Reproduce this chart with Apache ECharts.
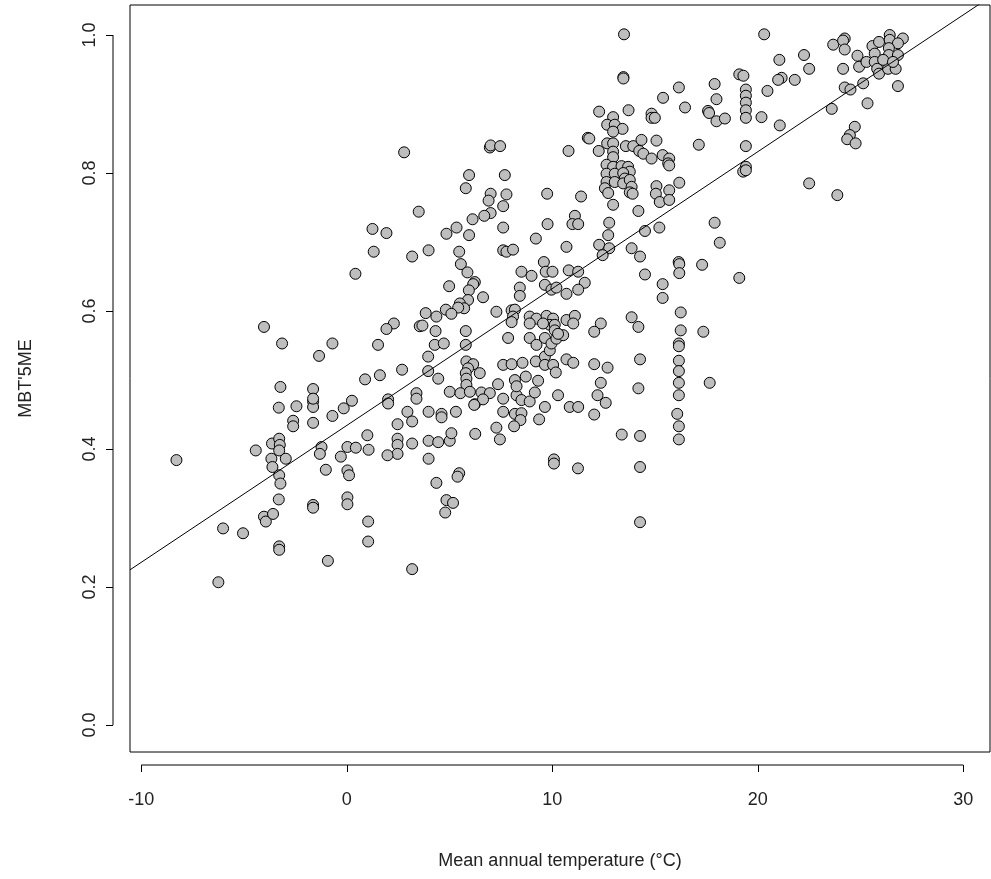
<!DOCTYPE html>
<html>
<head>
<meta charset="utf-8">
<script src="https://cdn.jsdelivr.net/npm/echarts@6/dist/echarts.min.js"></script>
<style>
html,body{margin:0;padding:0;background:#fff;}
#chart{width:991px;height:879px;}
</style>
</head>
<body>
<div id="chart"></div>
<script>
// Mean annual temperature (°C)
const temperature = [
2.79,6.96,7.00,7.46,10.79,11.73,5.95,7.69,5.79,7.00,7.77,9.75,11.40,6.90,7.61,3.50,7.00,6.69,6.12,11.10,10.98,11.26,
1.25,1.93,1.31,3.18,3.98,4.85,5.34,5.95,7.61,9.77,9.20,10.69,5.47,7.61,7.77,8.09,5.55,5.87,6.23,6.15,4.98,5.94,6.63,5.90,5.50,5.71,5.42,4.82,5.09,3.84,4.36,3.55,3.68,2.29,1.93,4.32,5.79,1.52,4.28,4.72,5.79,3.96,2.69,1.61,3.96,4.45,
5.82,6.15,5.90,5.79,5.82,5.82,6.47,5.01,5.53,5.99,6.55,6.96,7.36,6.23,6.63,2.01,2.01,3.39,3.39,7.61,8.26,8.50,8.90,9.15,9.64,10.28,10.85,11.26,
7.61,8.02,8.55,8.18,8.26,8.71,9.31,9.20,9.64,9.64,10.04,9.88,10.17,10.69,11.02,8.90,9.23,9.64,9.96,10.20,10.53,7.85,8.90,9.23,9.72,10.04,9.88,10.12,8.90,9.55,10.69,11.10,11.02,10.12,10.28,
8.02,8.18,8.09,8.02,7.28,8.42,8.42,8.50,8.99,9.59,9.68,10.01,9.64,9.96,10.20,10.69,10.80,11.26,11.58,11.26,
12.77,12.72,12.28,12.77,12.45,14.19,14.51,15.21,13.86,14.27,17.90,18.15,16.15,16.18,16.18,17.29,14.51,15.37,15.37,19.10,16.25,13.86,14.19,12.36,12.04,16.25,17.35,16.16,16.16,16.16,16.16,16.16,16.16,14.27,12.04,12.69,17.66,12.36,14.19,12.20,12.60,16.08,
12.04,16.16,16.16,13.38,14.27,11.25,14.27,14.27,
2.95,3.98,4.61,4.61,5.31,6.20,3.18,2.47,1.00,2.47,2.47,2.47,1.98,1.06,3.18,3.98,4.45,5.01,5.09,3.98,6.25,7.61,8.18,8.50,8.45,8.14,7.28,7.45,9.36,10.08,10.08,4.36,5.47,5.39,4.85,5.17,4.79,3.18,
-3.31,-2.45,-1.64,-1.64,-2.61,-2.61,-1.64,-0.70,-0.15,0.25,0.03,0.44,-1.23,-1.31,-0.29,-1.02,0.03,0.11,-4.43,-3.64,-3.29,-3.26,-3.29,-3.67,-2.97,-3.62,-3.29,-3.23,-3.31,-4.03,-3.94,-3.59,-6.02,-5.05,-3.29,-3.29,-6.25,-8.29,-1.64,-1.64,0.03,0.03,1.04,1.04,-0.92,
0.42,-4.03,-3.15,-0.70,-1.35,-3.23,-1.64,-1.64,0.89,
13.49,20.31,13.46,13.46,21.05,19.10,19.30,21.16,20.99,21.80,20.47,19.42,19.42,19.42,19.42,19.42,20.18,21.07,17.90,17.99,17.58,17.63,17.99,18.40,16.16,15.39,16.46,13.71,12.28,14.83,14.83,14.99,12.96,12.67,13.04,13.42,12.96,11.80,12.67,12.96,13.58,13.94,14.34,15.07,12.26,12.96,14.23,14.43,17.13,14.83,15.37,15.69,15.64,15.69,12.96,12.64,12.96,13.37,13.69,13.77,12.64,13.04,13.45,13.53,19.42,19.42,19.29,19.42,12.64,13.04,13.45,13.77,13.86,12.56,12.72,13.77,13.91,15.07,15.04,15.69,16.18,15.23,15.69,12.96,
22.25,22.50,23.67,24.23,24.15,24.23,24.15,24.85,24.93,25.29,25.58,25.69,25.90,26.42,26.42,27.06,26.82,26.38,26.38,26.82,25.69,25.81,25.90,26.34,26.71,26.10,26.58,26.82,24.23,24.51,25.13,23.60,25.34,24.72,24.48,24.35,24.76,22.50,23.87
];
// MBT'5ME
const mbt = [
0.830,0.837,0.840,0.839,0.832,0.851,0.797,0.797,0.778,0.770,0.769,0.770,0.766,0.760,0.752,0.744,0.742,0.738,0.733,0.738,0.726,0.726,
0.719,0.713,0.686,0.679,0.688,0.712,0.721,0.710,0.721,0.726,0.705,0.693,0.686,0.688,0.686,0.689,0.668,0.656,0.642,0.639,0.636,0.630,0.620,0.616,0.611,0.604,0.605,0.602,0.596,0.597,0.592,0.578,0.579,0.582,0.574,0.571,0.571,0.551,0.551,0.553,0.551,0.534,0.515,0.507,0.513,0.502,
0.527,0.523,0.517,0.510,0.502,0.493,0.510,0.483,0.481,0.483,0.482,0.481,0.494,0.465,0.472,0.472,0.466,0.481,0.473,0.473,0.478,0.471,0.469,0.482,0.461,0.478,0.461,0.461,
0.522,0.523,0.525,0.500,0.491,0.505,0.499,0.527,0.534,0.522,0.522,0.543,0.511,0.530,0.525,0.561,0.551,0.561,0.553,0.560,0.565,0.561,0.592,0.589,0.593,0.589,0.580,0.580,0.582,0.582,0.587,0.593,0.582,0.572,0.567,
0.601,0.602,0.592,0.584,0.599,0.634,0.622,0.657,0.651,0.671,0.657,0.657,0.638,0.631,0.634,0.625,0.659,0.657,0.641,0.631,
0.728,0.710,0.696,0.691,0.681,0.745,0.716,0.721,0.691,0.679,0.728,0.699,0.671,0.668,0.655,0.667,0.653,0.639,0.619,0.648,0.598,0.591,0.577,0.582,0.570,0.572,0.570,0.553,0.549,0.528,0.513,0.496,0.478,0.530,0.523,0.518,0.496,0.496,0.488,0.478,0.467,0.451,
0.450,0.433,0.414,0.421,0.419,0.372,0.374,0.294,
0.454,0.454,0.451,0.446,0.454,0.464,0.440,0.436,0.420,0.415,0.406,0.393,0.391,0.399,0.408,0.412,0.410,0.412,0.423,0.386,0.422,0.454,0.451,0.452,0.442,0.433,0.431,0.414,0.443,0.385,0.379,0.351,0.365,0.360,0.326,0.322,0.308,0.226,
0.460,0.462,0.469,0.461,0.441,0.433,0.438,0.448,0.459,0.470,0.403,0.402,0.403,0.393,0.389,0.370,0.369,0.362,0.398,0.408,0.415,0.406,0.398,0.386,0.386,0.374,0.362,0.350,0.327,0.302,0.295,0.306,0.285,0.278,0.259,0.254,0.207,0.384,0.319,0.315,0.330,0.320,0.295,0.266,0.238,
0.654,0.577,0.553,0.553,0.535,0.490,0.487,0.473,0.501,
1.001,1.001,0.939,0.937,0.964,0.943,0.941,0.938,0.935,0.935,0.919,0.921,0.912,0.902,0.891,0.880,0.881,0.869,0.929,0.907,0.890,0.887,0.875,0.879,0.924,0.909,0.895,0.891,0.889,0.886,0.880,0.880,0.881,0.870,0.870,0.864,0.860,0.850,0.843,0.843,0.839,0.839,0.848,0.847,0.832,0.831,0.832,0.828,0.841,0.821,0.826,0.821,0.814,0.811,0.823,0.812,0.809,0.810,0.809,0.802,0.799,0.799,0.800,0.792,0.839,0.809,0.802,0.804,0.787,0.787,0.785,0.790,0.780,0.778,0.771,0.772,0.770,0.781,0.770,0.775,0.786,0.758,0.761,0.754,
0.971,0.951,0.986,0.995,0.992,0.979,0.951,0.970,0.954,0.961,0.984,0.973,0.990,1.000,0.993,0.995,0.988,0.981,0.971,0.971,0.961,0.951,0.944,0.951,0.951,0.964,0.961,0.926,0.924,0.921,0.930,0.893,0.901,0.867,0.855,0.849,0.843,0.785,0.768
];
// Regression line end points
const fitX = [-10.55, 31.3];
const fitY = [0.225, 1.055];
// Tick labels
const xTicks = [-10, 0, 10, 20, 30];
const yTicks = [0.0, 0.2, 0.4, 0.6, 0.8, 1.0];
const xMin = -10.55, xMax = 31.3, yMin = -0.039, yMax = 1.0435;

const points = temperature.map((t, i) => [t, mbt[i]]);
const fitData = fitX.map((x, i) => [x, fitY[i]]);

const FONT = "'Liberation Sans', Arial, sans-serif";
const chart = echarts.init(document.getElementById('chart'), null, {renderer: 'canvas'});
chart.setOption({
  animation: false,
  backgroundColor: '#fff',
  grid: {left: 130, right: 1, top: 5, bottom: 127, show: true, borderColor: '#000', borderWidth: 1, backgroundColor: 'transparent'},
  xAxis: {
    type: 'value', min: xMin, max: xMax, offset: 13,
    axisLine: {show: false, onZero: false},
    splitLine: {show: false},
    axisTick: {show: true, customValues: xTicks, length: 7, lineStyle: {color: '#000', width: 1}},
    axisLabel: {customValues: xTicks, formatter: v => String(v), fontSize: 18, color: '#222', fontFamily: FONT, margin: 26},
    name: 'Mean annual temperature (°C)', nameLocation: 'middle', nameGap: 87,
    nameTextStyle: {fontSize: 18, color: '#222', fontFamily: FONT}
  },
  yAxis: {
    type: 'value', min: yMin, max: yMax, offset: 17,
    axisLine: {show: false, onZero: false},
    splitLine: {show: false},
    axisTick: {show: true, customValues: yTicks, length: 7, lineStyle: {color: '#000', width: 1}},
    axisLabel: {customValues: yTicks, formatter: v => v.toFixed(1), fontSize: 18, color: '#222', fontFamily: FONT, rotate: 90, margin: 14},
    name: "MBT'5ME", nameLocation: 'middle', nameGap: 78, nameRotate: 90,
    nameTextStyle: {fontSize: 18, color: '#222', fontFamily: FONT}
  },
  series: [
    {type: 'scatter', data: points, symbol: 'circle', symbolSize: 11,
     itemStyle: {color: '#BEBEBE', borderColor: '#000', borderWidth: 1, opacity: 1}, z: 2},
    {type: 'line', data: fitData, symbol: 'none', clip: true,
     lineStyle: {color: '#000', width: 1}, z: 3}
  ]
});

// R-style axis lines spanning first to last tick, placed via library scales
const xa = chart.convertToPixel({xAxisIndex: 0, yAxisIndex: 0}, [xTicks[0], yMin]);
const xb = chart.convertToPixel({xAxisIndex: 0, yAxisIndex: 0}, [xTicks[xTicks.length - 1], yMin]);
const ya = chart.convertToPixel({xAxisIndex: 0, yAxisIndex: 0}, [xMin, yTicks[0]]);
const yb = chart.convertToPixel({xAxisIndex: 0, yAxisIndex: 0}, [xMin, yTicks[yTicks.length - 1]]);
chart.setOption({
  graphic: [
    {type: 'line', shape: {x1: xa[0], y1: xa[1] + 13, x2: xb[0], y2: xb[1] + 13}, style: {stroke: '#000', lineWidth: 1}},
    {type: 'line', shape: {x1: ya[0] - 17, y1: ya[1], x2: yb[0] - 17, y2: yb[1]}, style: {stroke: '#000', lineWidth: 1}}
  ]
});
</script>
</body>
</html>
